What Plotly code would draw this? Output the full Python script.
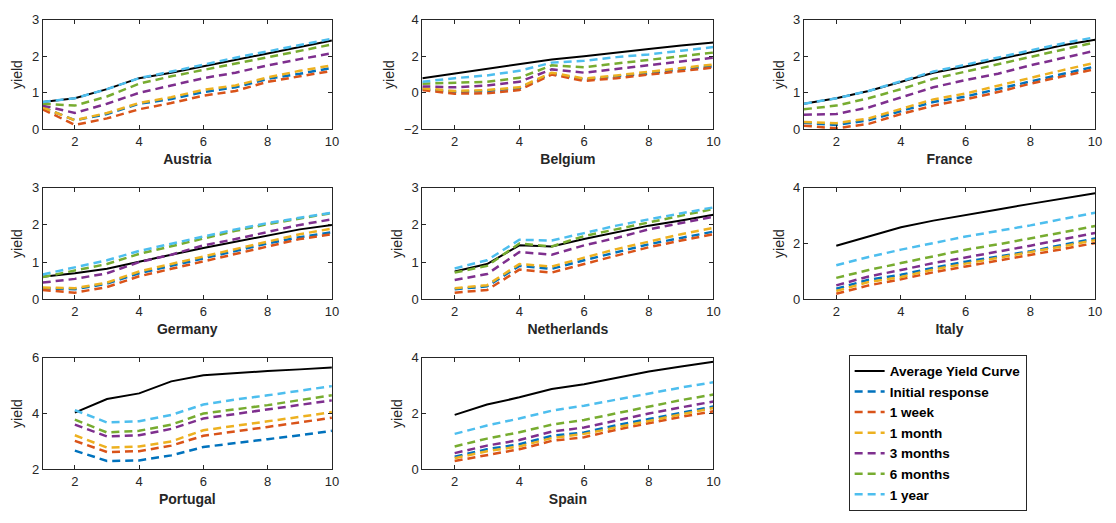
import plotly.graph_objects as go

# Maturities (years)
mat_full = [1, 2, 3, 4, 5, 6, 7, 8, 9, 10]
mat_short = [2, 3, 4, 5, 6, 7, 8, 9, 10]

series_names = ["Average Yield Curve", "Initial response", "1 week", "1 month",
                "3 months", "6 months", "1 year"]
series_colors = ["#000000", "#0072BD", "#D95319", "#EDB120", "#7E2F8E", "#77AC30", "#4DBEEE"]

# Yield curves per country, in the order of series_names
austria = [
    [0.75, 0.85, 1.10, 1.40, 1.55, 1.72, 1.90, 2.08, 2.25, 2.43],
    [0.60, 0.25, 0.42, 0.70, 0.83, 1.02, 1.15, 1.38, 1.52, 1.68],
    [0.55, 0.12, 0.30, 0.55, 0.72, 0.92, 1.05, 1.30, 1.45, 1.60],
    [0.60, 0.25, 0.45, 0.72, 0.88, 1.08, 1.20, 1.42, 1.60, 1.75],
    [0.65, 0.45, 0.70, 1.00, 1.20, 1.40, 1.55, 1.75, 1.92, 2.08],
    [0.70, 0.65, 0.90, 1.25, 1.45, 1.62, 1.80, 1.98, 2.15, 2.32],
    [0.75, 0.85, 1.10, 1.40, 1.58, 1.78, 1.96, 2.13, 2.30, 2.48],
]
belgium = [
    [0.80, 1.05, 1.30, 1.58, 1.82, 2.00, 2.22, 2.40, 2.58, 2.75],
    [0.20, 0.05, 0.10, 0.25, 1.05, 0.72, 0.90, 1.05, 1.30, 1.45],
    [0.15, -0.05, -0.02, 0.15, 1.00, 0.65, 0.80, 0.98, 1.20, 1.38],
    [0.25, 0.10, 0.15, 0.30, 1.10, 0.78, 0.95, 1.15, 1.35, 1.55],
    [0.35, 0.30, 0.40, 0.60, 1.28, 1.10, 1.30, 1.50, 1.70, 1.92],
    [0.50, 0.55, 0.60, 0.82, 1.50, 1.40, 1.60, 1.80, 2.00, 2.20],
    [0.60, 0.80, 0.95, 1.20, 1.65, 1.75, 1.95, 2.10, 2.30, 2.50],
]
france = [
    [0.70, 0.85, 1.05, 1.30, 1.55, 1.72, 1.92, 2.12, 2.30, 2.45],
    [0.18, 0.12, 0.25, 0.50, 0.75, 0.90, 1.10, 1.32, 1.50, 1.72],
    [0.10, 0.03, 0.15, 0.42, 0.65, 0.82, 1.02, 1.25, 1.45, 1.65],
    [0.20, 0.17, 0.30, 0.55, 0.82, 0.98, 1.20, 1.42, 1.62, 1.82],
    [0.40, 0.42, 0.60, 0.88, 1.15, 1.35, 1.52, 1.75, 1.95, 2.15],
    [0.55, 0.65, 0.85, 1.10, 1.38, 1.58, 1.78, 2.00, 2.20, 2.38],
    [0.70, 0.85, 1.05, 1.32, 1.58, 1.77, 1.97, 2.15, 2.35, 2.52],
]
germany = [
    [0.61, 0.70, 0.82, 1.02, 1.20, 1.38, 1.55, 1.73, 1.88, 2.00],
    [0.30, 0.27, 0.42, 0.70, 0.90, 1.10, 1.30, 1.50, 1.67, 1.80],
    [0.25, 0.18, 0.33, 0.62, 0.82, 1.02, 1.22, 1.43, 1.62, 1.75],
    [0.32, 0.30, 0.45, 0.75, 0.95, 1.15, 1.35, 1.55, 1.75, 1.90],
    [0.45, 0.55, 0.70, 1.00, 1.20, 1.45, 1.62, 1.82, 2.00, 2.15],
    [0.60, 0.77, 0.95, 1.22, 1.43, 1.64, 1.84, 2.02, 2.18, 2.32],
    [0.67, 0.85, 1.05, 1.30, 1.50, 1.70, 1.88, 2.05, 2.20, 2.33],
]
netherlands = [
    [0.75, 0.95, 1.45, 1.42, 1.62, 1.80, 1.98, 2.12, 2.27],
    [0.27, 0.35, 0.90, 0.82, 1.05, 1.27, 1.48, 1.65, 1.82],
    [0.18, 0.25, 0.80, 0.72, 0.95, 1.18, 1.40, 1.58, 1.75],
    [0.30, 0.38, 0.95, 0.88, 1.12, 1.35, 1.55, 1.75, 1.92],
    [0.52, 0.68, 1.27, 1.20, 1.45, 1.65, 1.88, 2.05, 2.22],
    [0.72, 0.90, 1.50, 1.42, 1.70, 1.88, 2.08, 2.25, 2.43],
    [0.83, 1.05, 1.60, 1.58, 1.78, 1.98, 2.15, 2.30, 2.47],
]
italy = [
    [1.92, 2.25, 2.58, 2.82, 3.03, 3.22, 3.42, 3.62, 3.80],
    [0.38, 0.70, 0.88, 1.13, 1.35, 1.53, 1.72, 1.95, 2.18],
    [0.20, 0.50, 0.72, 0.97, 1.18, 1.38, 1.58, 1.80, 2.02],
    [0.30, 0.62, 0.80, 1.07, 1.28, 1.48, 1.68, 1.90, 2.12],
    [0.50, 0.82, 1.05, 1.30, 1.50, 1.70, 1.92, 2.15, 2.38],
    [0.77, 1.05, 1.30, 1.55, 1.78, 1.97, 2.18, 2.40, 2.63],
    [1.22, 1.52, 1.78, 2.02, 2.25, 2.45, 2.65, 2.88, 3.10],
]
portugal = [
    [4.03, 4.52, 4.72, 5.15, 5.37, 5.45, 5.52, 5.58, 5.65],
    [2.67, 2.30, 2.32, 2.50, 2.80, 2.95, 3.08, 3.22, 3.38],
    [3.02, 2.62, 2.65, 2.85, 3.20, 3.35, 3.52, 3.68, 3.85],
    [3.22, 2.78, 2.82, 3.00, 3.40, 3.55, 3.72, 3.88, 4.05],
    [3.60, 3.18, 3.22, 3.45, 3.82, 3.98, 4.15, 4.30, 4.47],
    [3.78, 3.32, 3.38, 3.60, 4.00, 4.15, 4.30, 4.48, 4.65],
    [4.12, 3.68, 3.72, 3.95, 4.32, 4.50, 4.65, 4.82, 4.98],
]
spain = [
    [1.95, 2.32, 2.58, 2.88, 3.05, 3.28, 3.50, 3.68, 3.85],
    [0.45, 0.72, 0.90, 1.20, 1.32, 1.58, 1.80, 2.02, 2.25],
    [0.30, 0.52, 0.72, 1.02, 1.15, 1.42, 1.65, 1.88, 2.08],
    [0.40, 0.65, 0.82, 1.12, 1.27, 1.50, 1.75, 1.98, 2.20],
    [0.58, 0.85, 1.05, 1.35, 1.50, 1.75, 2.00, 2.22, 2.43],
    [0.82, 1.10, 1.33, 1.60, 1.77, 2.00, 2.25, 2.48, 2.68],
    [1.27, 1.57, 1.82, 2.10, 2.28, 2.50, 2.72, 2.93, 3.12],
]

countries = ["Austria", "Belgium", "France", "Germany", "Netherlands", "Italy", "Portugal", "Spain"]
country_data = [austria, belgium, france, germany, netherlands, italy, portugal, spain]
country_x = [mat_full, mat_full, mat_full, mat_full, mat_short, mat_short, mat_short, mat_short]
y_ranges = [[0, 3], [-2, 4], [0, 3], [0, 3], [0, 3], [0, 4], [2, 6], [0, 4]]
y_ticks = [[0, 1, 2, 3], [-2, 0, 2, 4], [0, 1, 2, 3], [0, 1, 2, 3], [0, 1, 2, 3],
           [0, 2, 4], [2, 4, 6], [0, 2, 4]]

W, H = 1116, 523
col_px = [(43, 334), (425, 718), (809, 1102)]
row_px = [(13, 126), (186, 301), (361, 476)]

AX_COLOR = "#262626"
FONT = "Liberation Sans, Arial, sans-serif"

fig = go.Figure()
layout = {}

for i, (name, data, xs) in enumerate(zip(countries, country_data, country_x)):
    r, c = divmod(i, 3)
    k = "" if i == 0 else str(i + 1)
    x0, x1 = col_px[c]
    y0, y1 = row_px[r]
    layout["xaxis" + k] = dict(
        domain=[x0 / W, x1 / W], anchor="y" + k, range=[1, 10],
        tickvals=[2, 4, 6, 8, 10], ticks="inside", ticklen=4, tickcolor=AX_COLOR,
        showline=True, linecolor=AX_COLOR, linewidth=1, mirror="ticks",
        showgrid=False, zeroline=False,
        tickfont=dict(family=FONT, size=13, color=AX_COLOR),
        title=dict(text="<b>" + name + "</b>", standoff=6,
                   font=dict(family=FONT, size=14, color=AX_COLOR)),
    )
    layout["yaxis" + k] = dict(
        domain=[1 - y1 / H, 1 - y0 / H], anchor="x" + k, range=y_ranges[i],
        tickvals=y_ticks[i], ticks="inside", ticklen=4, tickcolor=AX_COLOR,
        showline=True, linecolor=AX_COLOR, linewidth=1, mirror="ticks",
        showgrid=False, zeroline=False,
        tickfont=dict(family=FONT, size=13, color=AX_COLOR),
        title=dict(text="yield", standoff=5,
                   font=dict(family=FONT, size=14, color=AX_COLOR)),
    )
    for j, (sname, col) in enumerate(zip(series_names, series_colors)):
        fig.add_trace(go.Scatter(
            x=xs, y=data[j], mode="lines", name=sname,
            xaxis="x" + k, yaxis="y" + k,
            showlegend=(i == 0),
            line=dict(color=col, width=2 if j == 0 else 2.5,
                      dash="solid" if j == 0 else "8px,5px"),
        ))

fig.update_layout(
    **layout,
    width=W, height=H,
    margin=dict(l=0, r=0, t=0, b=0),
    paper_bgcolor="white", plot_bgcolor="white",
    legend=dict(
        x=854 / W, y=1 - 358 / H, xanchor="left", yanchor="top",
        bordercolor=AX_COLOR, borderwidth=1, bgcolor="white",
        font=dict(family=FONT, size=13.5, color="#000000", weight="bold"),
        tracegroupgap=0,
    ),
)

fig.write_html("out.html")
